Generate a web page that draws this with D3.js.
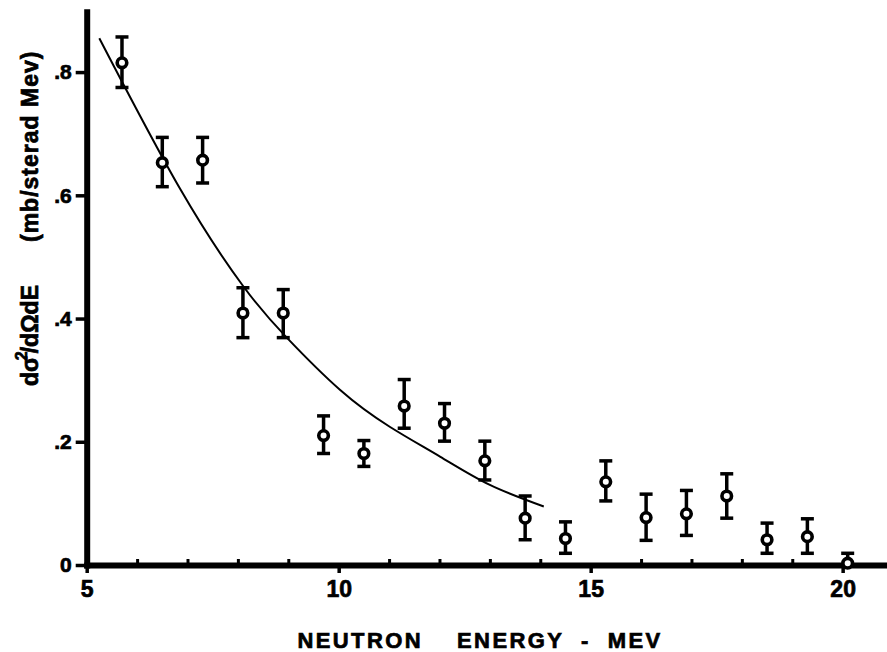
<!DOCTYPE html>
<html>
<head>
<meta charset="utf-8">
<script src="https://cdn.jsdelivr.net/npm/d3@7"></script>
<style>
    body { margin: 0; background: #ffffff; }
    svg { display: block; font-family: "Liberation Sans", Arial, sans-serif; font-weight: bold; }
    svg text { stroke: #000; stroke-width: 0.7px; }
</style>
</head>
<body>
<script>
// measured points (neutron energy in MeV, cross section in mb/sterad MeV)
const energy = [5.7, 6.5, 7.3, 8.1, 8.9, 9.7, 10.5, 11.3, 12.1, 12.9, 13.7, 14.5, 15.3, 16.1, 16.9, 17.7, 18.5, 19.3, 20.1];
const crossSection = [0.815, 0.653, 0.657, 0.409, 0.409, 0.210, 0.181, 0.258, 0.230, 0.169, 0.076, 0.043, 0.135, 0.077, 0.083, 0.112, 0.041, 0.046, 0.003];
const errLow = [0.775, 0.614, 0.620, 0.369, 0.369, 0.181, 0.160, 0.222, 0.201, 0.138, 0.041, 0.019, 0.104, 0.040, 0.048, 0.076, 0.019, 0.019, 0.003];
const errHigh = [0.857, 0.694, 0.694, 0.450, 0.447, 0.242, 0.202, 0.301, 0.262, 0.201, 0.112, 0.070, 0.169, 0.115, 0.121, 0.148, 0.068, 0.075, 0.019];

// fitted curve
const fitEnergy = [5.25, 6.85, 8.11, 8.97, 10.03, 11.02, 12.01, 13.00, 14.07];
const fitValue = [0.855, 0.611, 0.452, 0.369, 0.284, 0.224, 0.176, 0.130, 0.095];

// tick labels
const xMajorTicks = [5, 10, 15, 20];
const xMinorTicks = [6, 7, 8, 9, 11, 12, 13, 14, 16, 17, 18, 19];
const yTicks = [0, 0.2, 0.4, 0.6, 0.8];

const svgWidth = 887, svgHeight = 652;

const svg = d3.select('body')
    .append('svg')
    .attr('width', svgWidth)
    .attr('height', svgHeight);

// scales: the axes run past the last labelled tick
const x = d3.scaleLinear().domain([5, 20.88]).range([86.7, 887]);
const y = d3.scaleLinear().domain([0, 0.898]).range([565, 11.7]);

// x axis: major ticks hang below, minor ticks sit on top
const xAxisG = svg.append('g')
    .attr('transform', `translate(0,${y(0)})`)
    .call(d3.axisBottom(x).tickValues(xMajorTicks).tickSize(8).tickSizeOuter(0).tickPadding(8).tickFormat(d3.format('d')));
svg.append('g')
    .attr('transform', `translate(0,${y(0)})`)
    .call(d3.axisBottom(x).tickValues(xMinorTicks).tickSize(-6).tickSizeOuter(0).tickFormat(''))
    .call(g => g.select('.domain').remove())
    .selectAll('line').attr('stroke-width', 3);

// y axis
const yAxisG = svg.append('g')
    .attr('transform', `translate(${x(5)},0)`)
    .call(d3.axisLeft(y).tickValues(yTicks).tickSize(11).tickSizeOuter(0).tickPadding(4)
        .tickFormat(d => d === 0 ? '0' : d3.format('.1f')(d).replace('0.', '.')));

[xAxisG, yAxisG].forEach(g => {
    g.select('.domain').attr('stroke-width', 6).attr('stroke-linecap', 'square');
    g.selectAll('.tick line').attr('stroke-width', 3.5);
    g.selectAll('text').attr('fill', '#000').attr('font-family', null).attr('font-weight', 'bold');
});
xAxisG.selectAll('text').attr('font-size', 23);
yAxisG.selectAll('text').attr('font-size', 21);

// fitted curve
const fitLine = d3.line()
    .x((d, i) => x(fitEnergy[i]))
    .y(d => y(d))
    .curve(d3.curveNatural);
svg.append('path')
    .datum(fitValue)
    .attr('d', fitLine)
    .attr('fill', 'none')
    .attr('stroke', '#000')
    .attr('stroke-width', 2);

// error bars
const points = energy.map((e, i) => ({e, v: crossSection[i], lo: errLow[i], hi: errHigh[i]}));
const barsG = svg.append('g').attr('stroke', '#000').attr('stroke-width', 3.5);
barsG.selectAll('line.bar')
    .data(points)
    .enter()
    .append('line')
    .attr('class', 'bar')
    .attr('x1', d => x(d.e)).attr('x2', d => x(d.e))
    .attr('y1', d => y(d.lo)).attr('y2', d => y(d.hi));
barsG.selectAll('line.capHi')
    .data(points)
    .enter()
    .append('line')
    .attr('class', 'capHi')
    .attr('x1', d => x(d.e) - 6.5).attr('x2', d => x(d.e) + 6.5)
    .attr('y1', d => y(d.hi)).attr('y2', d => y(d.hi));
barsG.selectAll('line.capLo')
    .data(points.filter(d => d.lo < d.v))
    .enter()
    .append('line')
    .attr('class', 'capLo')
    .attr('x1', d => x(d.e) - 6.5).attr('x2', d => x(d.e) + 6.5)
    .attr('y1', d => y(d.lo)).attr('y2', d => y(d.lo));

// open circles
svg.append('g')
    .selectAll('circle')
    .data(points)
    .enter()
    .append('circle')
    .attr('cx', d => x(d.e))
    .attr('cy', d => y(d.v))
    .attr('r', 4.8)
    .attr('fill', '#fff')
    .attr('stroke', '#000')
    .attr('stroke-width', 3.6);

// x axis title
svg.append('text')
    .attr('x', 480)
    .attr('y', 648)
    .attr('text-anchor', 'middle')
    .attr('font-size', 22)
    .attr('letter-spacing', 2.4)
    .style('white-space', 'pre')
    .text('NEUTRON    ENERGY  -  MEV');

// y axis title, in two pieces as in the figure
const yTitle = svg.append('text')
    .attr('transform', 'translate(38,386) rotate(-90)')
    .attr('font-size', 23);
yTitle.append('tspan').text('dσ');
yTitle.append('tspan').attr('dx', -4).attr('dy', -11).attr('font-size', 16).text('2');
yTitle.append('tspan').attr('dx', -2).attr('dy', 11).text('/dΩdE');

svg.append('text')
    .attr('transform', 'translate(38,242) rotate(-90)')
    .attr('font-size', 23)
    .attr('letter-spacing', 1)
    .text('(mb/sterad Mev)');
</script>
</body>
</html>
